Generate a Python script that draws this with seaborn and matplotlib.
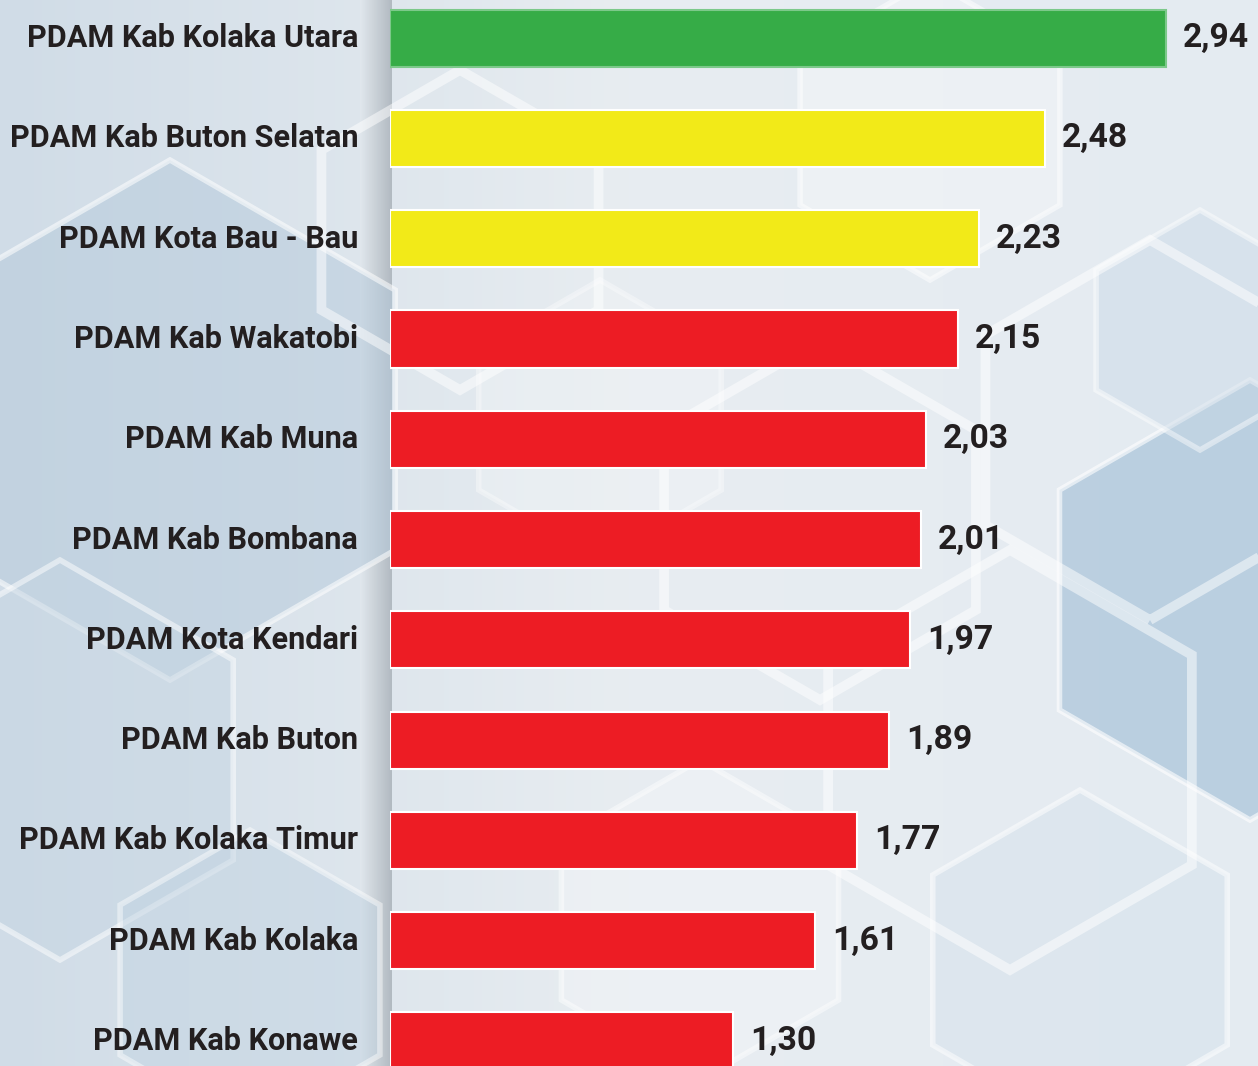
import numpy as np
import pandas as pd
import matplotlib
matplotlib.use('Agg')
import matplotlib.pyplot as plt
from matplotlib.patches import RegularPolygon
import seaborn as sns

names = ['PDAM Kab Kolaka Utara', 'PDAM Kab Buton Selatan', 'PDAM Kota Bau - Bau',
         'PDAM Kab Wakatobi', 'PDAM Kab Muna', 'PDAM Kab Bombana', 'PDAM Kota Kendari',
         'PDAM Kab Buton', 'PDAM Kab Kolaka Timur', 'PDAM Kab Kolaka', 'PDAM Kab Konawe']
values = [2.94, 2.48, 2.23, 2.15, 2.03, 2.01, 1.97, 1.89, 1.77, 1.61, 1.30]
labels = ['2,94', '2,48', '2,23', '2,15', '2,03', '2,01', '1,97', '1,89', '1,77', '1,61', '1,30']
colors = ['#36AC47', '#F2EA18', '#F2EA18'] + ['#ED1C24'] * 8

sns.set_theme(style='white')
plt.rcParams['font.family'] = ['Roboto', 'DejaVu Sans']

fig = plt.figure(figsize=(12.58, 10.66), dpi=100)

# background: soft gradient + hexagons
bg = fig.add_axes([0, 0, 1, 1], zorder=0)
bg.set_xlim(0, 1258)
bg.set_ylim(1066, 0)
bg.axis('off')
grad = np.outer(np.ones(200), np.linspace(0, 1, 300))
bg.imshow(grad, extent=[0, 1258, 1066, 0], aspect='auto',
          cmap=matplotlib.colors.LinearSegmentedColormap.from_list('bgc', ['#d0dce7', '#e8edf1', '#e4ebf1']))
hexes = [(170, 420, 260, '#b7cbdc', 0.55), (60, 760, 200, '#c6d6e3', 0.5), (250, 980, 150, '#bfd2e1', 0.45),
         (1250, 600, 220, '#9fbdd6', 0.6), (1200, 330, 120, '#c9d9e6', 0.45), (930, 130, 150, '#f4f6f8', 0.5),
         (700, 920, 160, '#f4f6f8', 0.45), (1080, 960, 170, '#d6e2ec', 0.5), (600, 420, 140, '#f3f6f8', 0.35)]
for cx, cy, r, c, a in hexes:
    bg.add_patch(RegularPolygon((cx, cy), 6, radius=r, facecolor=c, alpha=a, edgecolor='white', lw=4))
for cx, cy, r in [(820, 520, 180), (1010, 760, 210), (460, 230, 160), (1150, 430, 190)]:
    bg.add_patch(RegularPolygon((cx, cy), 6, radius=r, facecolor='none', edgecolor='white', lw=7, alpha=0.5))
shadow = np.outer(np.ones(10), np.linspace(0, 1, 50))
bg.imshow(shadow, extent=[360, 392, 1066, 0], aspect='auto', alpha=0.55,
          cmap=matplotlib.colors.LinearSegmentedColormap.from_list('sh', ['#e4e9ee', '#8e969e']))

ax = fig.add_axes([390 / 1258, 0, 868 / 1258, 1], zorder=1)
ax.patch.set_alpha(0)
df = pd.DataFrame({'name': names, 'value': values})
sns.barplot(data=df, x='value', y='name', hue='name', palette=colors, saturation=1, legend=False,
            orient='h', width=0.57, ax=ax, edgecolor='white', linewidth=1.5)
ax.patches[0].set_edgecolor('#7cc98a')

ax.set_xlim(0, 868 / 264)
ax.set_ylim(10.25, -0.38)
ax.set_xlabel('')
ax.set_ylabel('')
ax.set_xticks([])
ax.set_yticks([])
for s in ax.spines.values():
    s.set_visible(False)

# pick a font size so the longest category label is as wide as in the original
renderer = fig.canvas.get_renderer()
probe = fig.text(0, 0, names[1], fontsize=30, fontweight='bold')
w = probe.get_window_extent(renderer).width
probe.remove()
fs = 30 * 348 / w

for i, (v, t) in enumerate(zip(values, labels)):
    ax.text(v + 0.065, i, t, va='center', ha='left', fontsize=fs * 1.1, fontweight='bold', color='#231f20')
    ax.text(-32 / 264, i, names[i], va='center', ha='right', fontsize=fs, fontweight='bold',
            color='#231f20', clip_on=False)

fig.savefig('out.png', dpi=100)
